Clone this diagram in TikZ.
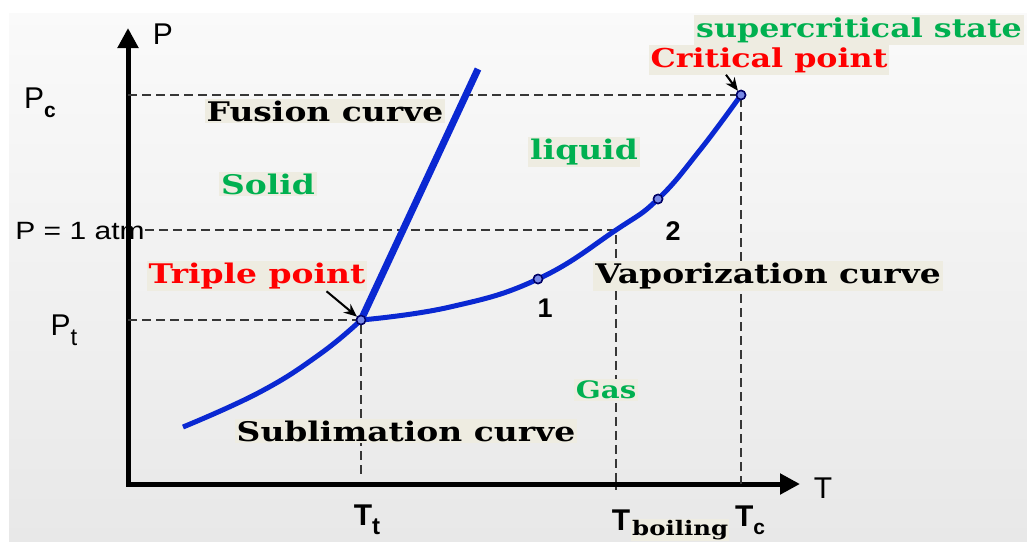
\documentclass[tikz,border=0pt]{standalone}
\usepackage{fontspec}
\setmainfont{DejaVu Serif}
\newfontfamily\axfont{Liberation Sans}
\newfontfamily\axwidefont[FakeStretch=1.2]{Liberation Sans}
\newfontfamily\lblfont[FakeStretch=1.22]{DejaVu Serif}
\usetikzlibrary{arrows.meta,positioning}
\definecolor{phasegreen}{RGB}{0,176,80}
\definecolor{pointred}{RGB}{255,0,0}
\definecolor{curveblue}{RGB}{10,40,210}
\definecolor{labelbg}{RGB}{238,236,225}
\definecolor{dashgray}{RGB}{55,55,55}

\begin{document}
\begin{tikzpicture}[x=1pt, y=-1pt,
		lbl/.style={fill=labelbg, inner sep=2pt, font=\lblfont\bfseries\fontsize{27}{30}\selectfont},
		phase/.style={lbl, text=phasegreen},
		redlbl/.style={lbl, text=pointred},
		axlbl/.style={inner sep=0pt, font=\axfont\fontsize{30}{32}\selectfont},
		boldax/.style={axlbl, font=\axfont\bfseries\fontsize{30}{32}\selectfont},
		numlbl/.style={inner sep=0pt, font=\axfont\bfseries\fontsize{27}{30}\selectfont},
		guide/.style={draw=dashgray, line width=2.4pt, dash pattern=on 9pt off 5pt},
		curve/.style={draw=curveblue, line width=5pt},
		dot/.style={circle, draw=black!60!blue, fill=curveblue!55, line width=1.5pt, minimum size=9pt, inner sep=0pt},
		pointer/.style={-{Stealth[length=13pt,width=11pt]}, line width=2pt},
		axis/.style={line width=5pt, line join=miter, {Triangle[length=20pt,width=20pt]}-{Triangle[length=20pt,width=20pt]}}]

		% page and panel
		\useasboundingbox (0,0) rectangle (1027,541);
		\shade[top color=black!2, bottom color=black!9] (9,13) rectangle (1027,541);

		% axes
		\coordinate (O) at (128,484);
		\coordinate (Ptip) at (128,28);
		\coordinate (Ttip) at (800,484);
		\draw[axis] (Ptip) -- (O) -- (Ttip);

		% points on the curves
		\node[dot] (triple) at (361,320) {};
		\node[dot] (one) at (538,279) {};
		\node[dot] (two) at (658,199) {};
		\node[dot] (crit) at (741,95) {};
		\coordinate (boil) at (616,230);
		\coordinate (subl) at (183,427);
		\coordinate (fus) at (478,69);

		% axis labels
		\node[axlbl] (Plbl) at (163,34) {P};
		\node[axlbl] (Pc) at (40,103) {P\raisebox{-9pt}{\bfseries\fontsize{21}{21}\selectfont c}};
		\node[axlbl, font=\axwidefont\fontsize{25}{28}\selectfont] (atm) at (80,231) {P = 1 atm};
		\node[axlbl] (Pt) at (64,330) {P\raisebox{-10pt}{\fontsize{24}{24}\selectfont t}};
		\node[axlbl] (Tlbl) at (823,488) {T};

		% guide lines
		\draw[guide] (crit.center -| O) -- (crit.center) -- (crit.center |- O);
		\draw[guide] (atm.east |- boil) -- (boil) -- ([yshift=-6pt]boil |- O);
		\draw[guide] (triple.center -| O) -- (triple.center) -- ([yshift=9pt]triple.center |- O);

		% phase boundaries
		\draw[curve] plot[smooth, tension=0.75] coordinates {(subl) (260,392) (320,354) (triple.center)};
		\draw[curve] plot[smooth, tension=0.75] coordinates {(triple.center) (450,307) (one.center) (boil) (two.center) (700,150) (crit.center)};
		\draw[curve, line width=7pt] (triple.center) -- (fus);
		\foreach \p in {triple,one,two,crit}
			\node[dot] at (\p) {};

		% region and curve labels
		\node[lbl] (fusionlbl) at (325,111) {Fusion curve};
		\node[phase] (solid) at (268,184) {Solid};
		\node[phase] (liquid) at (584,152) {liquid};
		\node[phase, font=\lblfont\bfseries\fontsize{26}{29}\selectfont] (super) at (859,30) {supercritical state};
		\node[redlbl, font=\lblfont\bfseries\fontsize{26}{29}\selectfont] (critlbl) at (769,60) {Critical point};
		\node[redlbl] (triplelbl) at (257,276) {Triple point};
		\node[lbl] (vaplbl) at (768,276) {Vaporization curve};
		\node[phase, font=\lblfont\bfseries\fontsize{24}{27}\selectfont] (gas) at (606,390) {Gas};
		\node[lbl] (sublbl) at (406,431) {Sublimation curve};
		\node[numlbl] (onelbl) at (545,308) {1};
		\node[numlbl] (twolbl) at (673,231) {2};

		\draw[pointer] ([xshift=-41pt]triplelbl.south east) -- (triple);
		\draw[pointer] ([xshift=-43pt]critlbl.south) -- (crit);

		% temperatures
		\node[boldax] (Tt) at (367,520) {T\raisebox{-9pt}{\fontsize{24}{24}\selectfont t}};
		\node[boldax] (Tb) at (621,520) {T};
		\node[lbl, inner sep=1pt, font=\lblfont\bfseries\fontsize{20}{22}\selectfont, anchor=south west] (boilsub) at (631,541) {boiling};
		\node[boldax] (Tc) at (750,520) {T\raisebox{-8pt}{\fontsize{21}{21}\selectfont c}};

	\end{tikzpicture}
\end{document}
